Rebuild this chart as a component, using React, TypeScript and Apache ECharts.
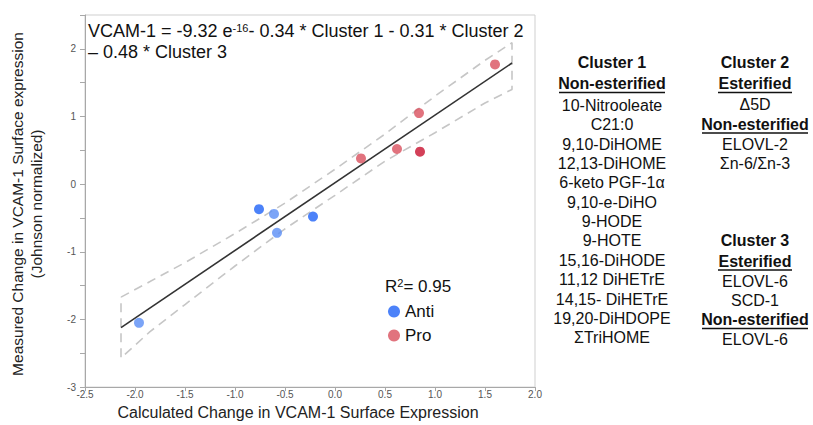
import React, { useEffect, useRef } from 'react';
import * as echarts from 'echarts';

// Measured vs calculated change
const antiX = [-0.76, -0.61, -0.58, -0.22, -1.96];
const antiY = [-0.37, -0.44, -0.72, -0.48, -2.05];
const antiDarkTone = [true, false, false, true, false];

const proX = [0.26, 0.62, 0.84, 0.85, 1.6];
const proY = [0.38, 0.52, 1.05, 0.48, 1.77];
const proDarkTone = [false, false, false, true, false];

// Regression line end points
const fitX = [-2.14, 1.77];
const fitY = [-2.12, 1.79];

// Confidence band
const bandX = [-2.14, -1.85, -1.5, -1.0, -0.5, 0, 0.5, 1.0, 1.5, 1.77];
const bandUpper = [-1.67, -1.44, -1.16, -0.73, -0.28, 0.22, 0.74, 1.3, 1.83, 2.09];
const bandLower = [-2.57, -2.18, -1.78, -1.21, -0.66, -0.165, 0.34, 0.76, 1.2, 1.4];

const xTicks = ['-2.5', '-2.0', '-1.5', '-1.0', '-0.5', '0.0', '0.5', '1.0', '1.5', '2.0'];

const equationLine1 = ['VCAM-1 = -9.32 e', '-16', '- 0.34 * Cluster 1 - 0.31 * Cluster 2'];
const equationLine2 = '– 0.48 * Cluster 3';
const rSquared = '0.95';

const cluster1Items = [
  '10-Nitrooleate', 'C21:0', '9,10-DiHOME', '12,13-DiHOME', '6-keto PGF-1α',
  '9,10-e-DiHO', '9-HODE', '9-HOTE', '15,16-DiHODE', '11,12 DiHETrE',
  '14,15- DiHETrE', '19,20-DiHDOPE', 'ΣTriHOME',
];
const cluster2Esterified = ['Δ5D'];
const cluster2NonEsterified = ['ELOVL-2', 'Σn-6/Σn-3'];
const cluster3Esterified = ['ELOVL-6', 'SCD-1'];
const cluster3NonEsterified = ['ELOVL-6'];

const FONT = '"Liberation Sans", Arial, sans-serif';

export default function App() {
  const ref = useRef<HTMLDivElement>(null);

  useEffect(() => {
    if (!ref.current) return;
    const chart = echarts.init(ref.current, null, { renderer: 'svg' });

    const bandPath: number[][] = [];
    bandX.forEach((x, i) => bandPath.push([x, bandUpper[i]]));
    for (let i = bandX.length - 1; i >= 0; i--) bandPath.push([bandX[i], bandLower[i]]);
    bandPath.push([bandX[0], bandUpper[0]]);

    const antiData = antiX.map((x, i) => ({
      value: [x, antiY[i]],
      itemStyle: { color: antiDarkTone[i] ? '#1f63f7' : '#5a8df5' },
    }));
    const proData = proX.map((x, i) => ({
      value: [x, proY[i]],
      itemStyle: { color: proDarkTone[i] ? '#c8102e' : '#d9505e' },
    }));

    const graphic: any[] = [];
    const txt = (text: string, x: number, y: number, opts: any = {}) => {
      graphic.push({
        type: 'text',
        x,
        y,
        silent: true,
        style: {
          text,
          fill: '#111',
          font: `${opts.bold ? 'bold ' : ''}${opts.size || 16}px ${FONT}`,
          textAlign: opts.align || 'center',
          textVerticalAlign: 'middle',
          ...(opts.style || {}),
        },
        rotation: opts.rotation || 0,
      });
    };
    const underline = (cx: number, y: number, w: number) => {
      graphic.push({
        type: 'line',
        silent: true,
        shape: { x1: cx - w / 2, y1: y + 9, x2: cx + w / 2, y2: y + 9 },
        style: { stroke: '#111', lineWidth: 1.5 },
      });
    };

    // Equation
    graphic.push({
      type: 'text',
      x: 88,
      y: 31,
      silent: true,
      style: {
        text: `${equationLine1[0]}{sup|${equationLine1[1]}}${equationLine1[2]}`,
        font: `18px ${FONT}`,
        fill: '#111',
        textVerticalAlign: 'middle',
        rich: {
          sup: { fontSize: 11, fontFamily: FONT, fill: '#111', verticalAlign: 'top' },
        },
      },
    });
    txt(equationLine2, 88, 52, { size: 18, align: 'left' });

    // R squared
    graphic.push({
      type: 'text',
      x: 385,
      y: 286,
      silent: true,
      style: {
        text: `R{sup|2}= ${rSquared}`,
        font: `17px ${FONT}`,
        fill: '#111',
        textVerticalAlign: 'middle',
        rich: { sup: { fontSize: 11, fontFamily: FONT, fill: '#111', verticalAlign: 'top' } },
      },
    });

    // Y axis title (two lines)
    txt('Measured Change in VCAM-1 Surface expression', 17, 204, { size: 15.5, rotation: Math.PI / 2, style: { fill: '#222' } });
    txt('(Johnson normalized)', 36, 204, { size: 15.5, rotation: Math.PI / 2, style: { fill: '#222' } });

    // Right panel
    const c1 = 612;
    const c2 = 755;
    txt('Cluster 1', c1, 62, { bold: true });
    txt('Non-esterified', c1, 83.5, { bold: true });
    underline(c1, 83.5, 106);
    cluster1Items.forEach((t, i) => txt(t, c1, 105.5 + i * 19.35));

    txt('Cluster 2', c2, 62, { bold: true });
    txt('Esterified', c2, 83.5, { bold: true });
    underline(c2, 83.5, 74);
    cluster2Esterified.forEach((t, i) => txt(t, c2, 104 + i * 19.5));
    txt('Non-esterified', c2, 124, { bold: true });
    underline(c2, 124, 106);
    cluster2NonEsterified.forEach((t, i) => txt(t, c2, 144 + i * 19.5));

    txt('Cluster 3', c2, 240.5, { bold: true });
    txt('Esterified', c2, 261, { bold: true });
    underline(c2, 261, 74);
    cluster3Esterified.forEach((t, i) => txt(t, c2, 281 + i * 19.5));
    txt('Non-esterified', c2, 319.5, { bold: true });
    underline(c2, 319.5, 106);
    cluster3NonEsterified.forEach((t, i) => txt(t, c2, 339 + i * 19.5));

    const option: any = {
      animation: false,
      backgroundColor: '#ffffff',
      textStyle: { fontFamily: FONT },
      grid: {
        left: 85,
        right: 278,
        top: 15,
        bottom: 36,
        show: true,
        borderColor: '#cfcfcf',
        borderWidth: 1,
      },
      xAxis: {
        type: 'value',
        min: -2.5,
        max: 2,
        interval: 0.5,
        name: 'Calculated Change in VCAM-1 Surface Expression',
        nameLocation: 'middle',
        nameGap: 15,
        nameTextStyle: { fontSize: 16, color: '#222', fontFamily: FONT, padding: [0, 24, 0, 0] },
        axisLine: { onZero: false, lineStyle: { color: '#a8a8a8' } },
        axisTick: { show: true, length: 4, lineStyle: { color: '#a8a8a8' } },
        axisLabel: {
          fontSize: 10,
          color: '#555',
          margin: 2,
          formatter: (v: number) => {
            const idx = Math.round((v + 2.5) / 0.5);
            return xTicks[idx] ?? '';
          },
        },
        splitLine: { show: false },
      },
      yAxis: {
        type: 'value',
        min: -3,
        max: 2.5,
        interval: 0.5,
        axisLine: { show: true, onZero: false, lineStyle: { color: '#a8a8a8' } },
        axisTick: { show: true, length: 5, lineStyle: { color: '#a8a8a8' } },
        axisLabel: {
          fontSize: 10,
          color: '#555',
          margin: 9,
          formatter: (v: number) => (Number.isInteger(v) && v <= 2 ? String(v) : ''),
        },
        splitLine: { show: false },
      },
      legend: {
        data: ['Anti', 'Pro'],
        orient: 'vertical',
        left: 383,
        top: 298,
        itemWidth: 12,
        itemHeight: 12,
        itemGap: 7,
        icon: 'circle',
        textStyle: { fontSize: 17, color: '#111', fontFamily: FONT },
      },
      series: [
        {
          type: 'line',
          name: 'band',
          data: bandPath,
          symbol: 'none',
          silent: true,
          z: 1,
          lineStyle: { color: '#c6c6c6', width: 1.6, type: [9, 6] },
        },
        {
          type: 'line',
          name: 'fit',
          data: fitX.map((x, i) => [x, fitY[i]]),
          symbol: 'none',
          silent: true,
          z: 2,
          lineStyle: { color: '#333', width: 1.6 },
        },
        {
          type: 'scatter',
          name: 'Anti',
          data: antiData,
          symbolSize: 10,
          z: 3,
          itemStyle: { color: '#1f63f7' },
        },
        {
          type: 'scatter',
          name: 'Pro',
          data: proData,
          symbolSize: 10,
          z: 3,
          itemStyle: { color: '#d9505e' },
        },
      ],
      graphic,
    };

    chart.setOption(option);
    return () => chart.dispose();
  }, []);

  return (
    <div
      ref={ref}
      style={{ position: 'absolute', left: 0, top: 0, width: 813, height: 425, background: '#fff' }}
    />
  );
}
